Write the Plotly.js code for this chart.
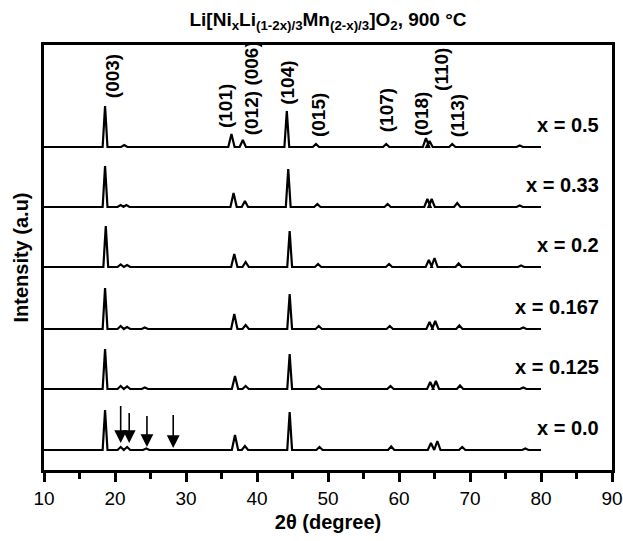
<!DOCTYPE html>
<html>
<head>
<meta charset="utf-8">
<script src="https://cdn.plot.ly/plotly-3.0.1.min.js"></script>
<style>html,body{margin:0;padding:0;background:#fff}#chart{width:623px;height:541px}</style>
</head>
<body>
<div id="chart"></div>
<script>
// Sample labels and vertical offsets (stacking, arbitrary units)
const samples = ["x = 0.5", "x = 0.33", "x = 0.2", "x = 0.167", "x = 0.125", "x = 0.0"];
const offsets = [323, 263, 203, 141, 81, 20];

// Peak positions (2θ, degrees) and heights (a.u.)
const pos_05  = [18.6, 21.3, 36.4, 38.0, 44.2, 48.3, 58.2, 63.8, 64.3, 67.5, 77.0];
const h_05    = [41, 2, 13, 7, 36, 3, 3, 9, 6, 3, 1.5];
const pos_033 = [18.6, 20.8, 21.6, 36.7, 38.3, 44.4, 48.5, 58.4, 64.0, 64.6, 68.2, 77.0];
const h_033   = [41, 2, 2, 14, 6, 38, 3, 3, 8, 8, 4, 1.5];
const pos_02  = [18.7, 20.8, 21.7, 36.8, 38.4, 44.6, 48.6, 58.6, 64.2, 65.0, 68.4, 77.2];
const h_02    = [41, 2.5, 2, 13, 5, 36, 3, 3, 7, 9, 3.5, 1.5];
const pos_0167= [18.6, 20.8, 21.7, 24.2, 36.8, 38.4, 44.6, 48.7, 58.7, 64.3, 65.1, 68.5, 77.5];
const h_0167  = [41, 3, 2, 1.5, 15, 4, 35, 3, 3, 7, 8, 3.5, 1.5];
const pos_0125= [18.6, 20.8, 21.7, 24.2, 36.9, 38.4, 44.6, 48.7, 58.8, 64.4, 65.2, 68.6, 77.5];
const h_0125  = [40, 3, 2.5, 1.5, 13, 3, 35, 3, 3, 7, 8, 3.5, 1.5];
const pos_00  = [18.6, 20.8, 21.7, 24.4, 36.9, 38.3, 44.6, 48.8, 58.9, 64.5, 65.4, 68.9, 77.8];
const h_00    = [40, 3, 3, 1.5, 15, 4, 38, 3, 3.5, 7, 9, 3, 1.5];

const scanStart = 10, scanEnd = 80;

// Miller index labels (top pattern) and their positions
const hkl      = ["(003)", "(101)", "(012)", "(006)", "(104)", "(015)", "(107)", "(018)", "(110)", "(113)"];
const hkl_x    = [19.6, 35.5, 39.2, 39.1, 44.2, 48.6, 58.2, 63.1, 65.9, 68.2];
const hkl_y    = [394, 364, 357, 406, 387, 355, 360, 356, 401, 354];

// Arrows marking superlattice reflections in x = 0.0
const arrow_x    = [20.8, 22.0, 24.5, 28.2];
const arrow_head = [27, 27, 23, 22];
const arrow_tail = [67, 60, 57, 58];

const peakPos = [pos_05, pos_033, pos_02, pos_0167, pos_0125, pos_00];
const peakH   = [h_05, h_033, h_02, h_0167, h_0125, h_00];

const hw = 0.34; // drawing half-width of a peak
function profile(ps, hs, off) {
  const xs = [scanStart], ys = [off];
  ps.forEach((p, i) => {
    const w = hs[i] > 20 ? hw : hw * 1.3;
    xs.push(p - w, p, p + w);
    ys.push(off, off + hs[i], off);
  });
  xs.push(scanEnd); ys.push(off);
  return {xs, ys};
}

const traces = samples.map((s, k) => {
  const pr = profile(peakPos[k], peakH[k], offsets[k]);
  return {x: pr.xs, y: pr.ys, type: 'scatter', mode: 'lines', name: s,
          line: {color: '#000', width: 2.2}, showlegend: false, hoverinfo: 'skip'};
});

const F = 'Arial, "Liberation Sans", Helvetica, sans-serif';
const annotations = [];
samples.forEach((s, k) => {
  annotations.push({x: 88.4, y: offsets[k] + 22, xref: 'x', yref: 'y', text: '<b>' + s + '</b>',
    showarrow: false, xanchor: 'right', yanchor: 'middle', font: {family: F, size: 20, color: '#000'}});
});
hkl.forEach((t, i) => {
  annotations.push({x: hkl_x[i], y: hkl_y[i], xref: 'x', yref: 'y', text: '<b>' + t + '</b>',
    textangle: -90, showarrow: false, xanchor: 'center', yanchor: 'middle',
    font: {family: F, size: 19, color: '#000'}});
});
arrow_x.forEach((ax, i) => {
  annotations.push({x: ax, y: arrow_head[i], ax: ax, ay: arrow_tail[i], xref: 'x', yref: 'y',
    axref: 'x', ayref: 'y', text: ' ', showarrow: true, arrowhead: 2, arrowsize: 1.6,
    arrowwidth: 1.6, arrowcolor: '#000', font: {size: 2}});
});

const layout = {
  width: 623, height: 541,
  margin: {l: 44, r: 11, t: 45, b: 71},
  paper_bgcolor: '#fff', plot_bgcolor: '#fff',
  title: {text: '<b>Li[Ni<sub>x</sub>Li<sub>(1-2x)/3</sub>Mn<sub>(2-x)/3</sub>]O<sub>2</sub>, 900 °C</b>',
    font: {family: F, size: 19, color: '#000'}, xref: 'paper', x: 0.5, xanchor: 'center',
    yref: 'container', y: 0.965, yanchor: 'middle'},
  xaxis: {range: [10, 90], dtick: 10, tick0: 10, showline: true, mirror: true, linewidth: 3,
    linecolor: '#000', ticks: 'outside', ticklen: 9, tickwidth: 3, tickcolor: '#000',
    minor: {dtick: 5, ticks: 'outside', ticklen: 6, tickwidth: 3, tickcolor: '#000'},
    showgrid: false, zeroline: false,
    tickfont: {family: F, size: 19, color: '#000'},
    title: {text: '<b>2θ (degree)</b>', font: {family: F, size: 20, color: '#000'}, standoff: 8}},
  yaxis: {range: [0, 425], showline: true, mirror: true, linewidth: 3, linecolor: '#000',
    ticks: '', showticklabels: false, showgrid: false, zeroline: false,
    title: {text: '<b>Intensity (a.u)</b>', font: {family: F, size: 20, color: '#000'}, standoff: 8}},
  annotations: annotations
};

Plotly.newPlot('chart', traces, layout, {displayModeBar: false, staticPlot: true});
</script>
</body>
</html>
